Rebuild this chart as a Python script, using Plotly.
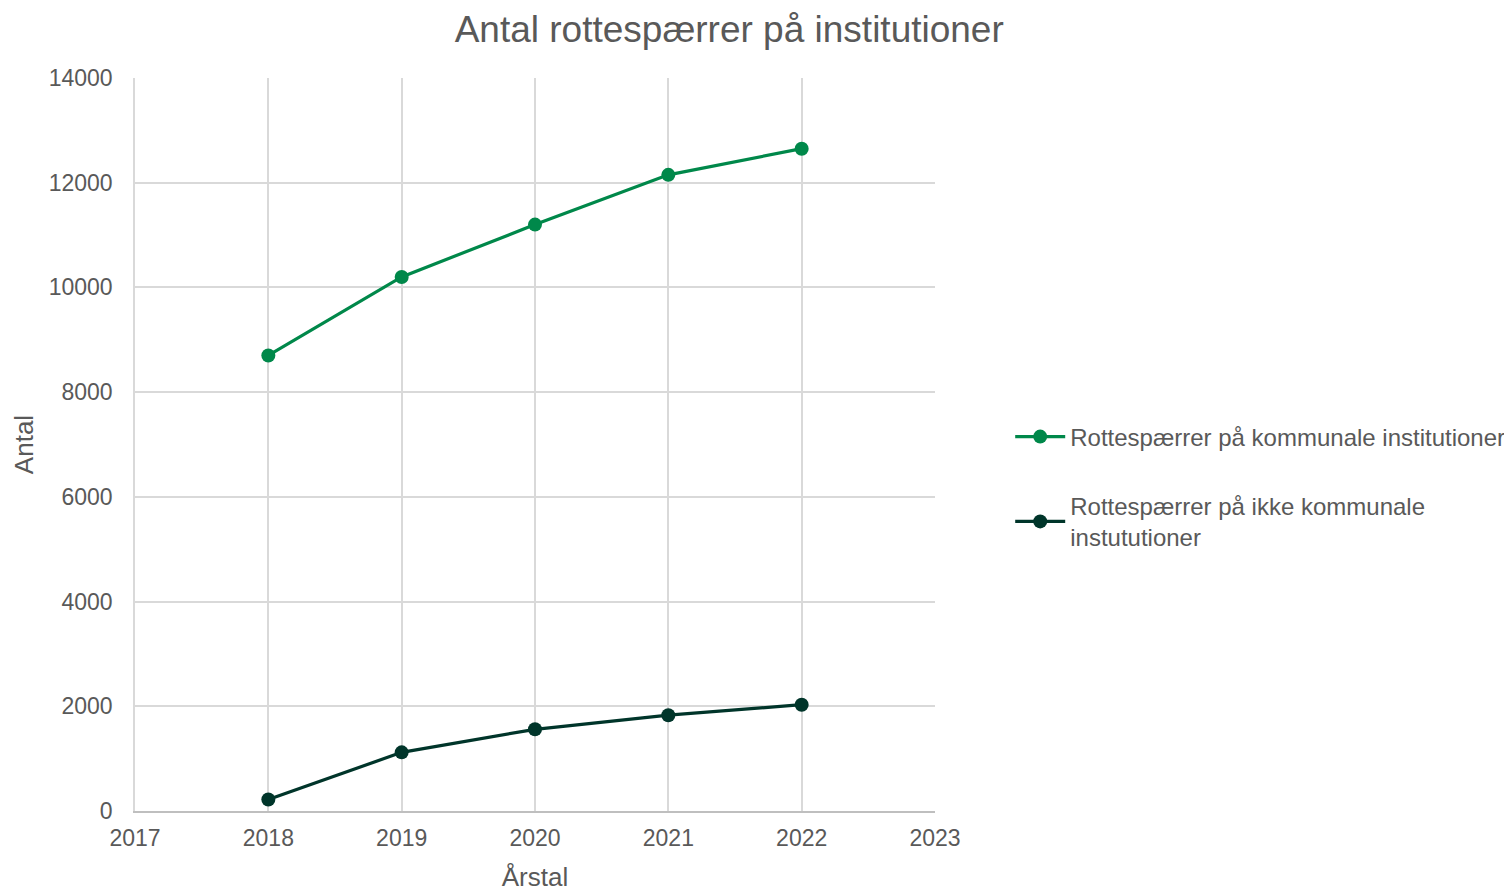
import plotly.graph_objects as go

years = [2018, 2019, 2020, 2021, 2022]
kommunale = [8700, 10200, 11200, 12150, 12650]
ikke_kommunale = [220, 1120, 1560, 1830, 2030]

series_names = ["Rottespærrer på kommunale institutioner",
                "Rottespærrer på ikke kommunale<br>instututioner"]
colors = ["#00884A", "#00352A"]

FONT = "Liberation Sans, Arial, sans-serif"
GRAY = "#595959"

fig = go.Figure()
for name, vals, col, grp in [(series_names[0], kommunale, colors[0], "a"),
                             (series_names[1], ikke_kommunale, colors[1], "b")]:
    fig.add_trace(go.Scatter(
        x=years, y=vals, name=name, mode="lines+markers",
        line=dict(color=col, width=3.2),
        marker=dict(color=col, size=14),
        legendgroup=grp,
    ))

fig.update_layout(
    width=1512, height=891,
    paper_bgcolor="white", plot_bgcolor="white",
    margin=dict(l=127, r=585, t=70, b=88, autoexpand=False),
    title=dict(text="Antal rottespærrer på institutioner", x=0.477, xanchor="center",
               y=0.976, yanchor="middle",
               font=dict(family=FONT, size=37, color=GRAY)),
    font=dict(family=FONT, size=24, color=GRAY),
    legend=dict(x=1.094, xanchor="left", y=0.442, yanchor="middle",
                font=dict(family=FONT, size=24, color=GRAY),
                traceorder="grouped", tracegroupgap=35, itemwidth=50,
                bgcolor="rgba(0,0,0,0)"),
    showlegend=True,
)
fig.update_xaxes(range=[2017, 2023], dtick=1, tick0=2017, tickformat="d",
                 showgrid=True, gridcolor="#D9D9D9", gridwidth=1.5,
                 showline=True, linecolor="#BFBFBF", linewidth=1.5,
                 zeroline=False, ticks="", ticklabelstandoff=6, automargin=False,
                 tickfont=dict(size=23, color=GRAY),
                 title=dict(text="Årstal", font=dict(size=26, color=GRAY), standoff=17))
fig.update_yaxes(range=[0, 14000], dtick=2000, tickformat="d",
                 showgrid=True, gridcolor="#D9D9D9", gridwidth=1.5,
                 showline=True, linecolor="#D9D9D9", linewidth=1.5,
                 zeroline=False, ticks="", ticklabelstandoff=16, automargin=False,
                 tickfont=dict(size=23, color=GRAY),
                 title=dict(text="Antal", font=dict(size=26, color=GRAY), standoff=8))

fig.write_html("out.html")
